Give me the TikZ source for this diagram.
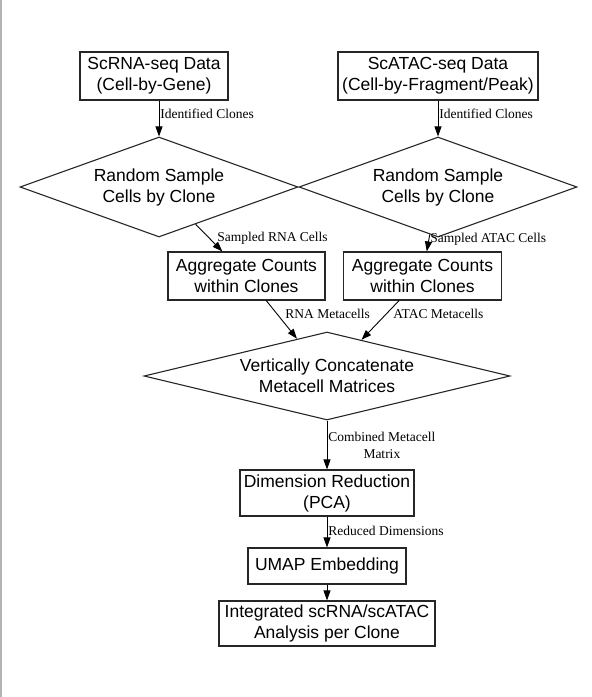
\documentclass[tikz,border=0pt]{standalone}
\usepackage{fontspec}
\setmainfont{Liberation Serif}
\newfontfamily\boxfont{Liberation Sans}
\usetikzlibrary{shapes.geometric}
\usetikzlibrary{arrows.meta}

\begin{document}
\begin{tikzpicture}[x=1pt,y=-1pt,
 box/.style={draw=black!85, line width=1.1pt, align=center, inner sep=0pt, font=\boxfont\fontsize{17.5}{21}\selectfont},
 choice/.style={draw=black!85, line width=1.1pt, diamond, align=center, inner sep=0pt, font=\boxfont\fontsize{17.5}{21}\selectfont},
 lbl/.style={anchor=west, inner sep=0pt, align=center, font=\fontsize{13.5}{17}\selectfont},
 flow/.style={draw=black, line width=0.9pt, -{Triangle[length=10pt,width=7pt]}}]
\useasboundingbox (0,0) rectangle (592,697);
\draw[black!30, line width=1.5pt] (0.75,0)--(0.75,697);
\node[box, minimum width=148, minimum height=48] (rna) at (154,76) {ScRNA-seq Data\\(Cell-by-Gene)};
\node[box, minimum width=200, minimum height=48] (atac) at (438,76) {ScATAC-seq Data\\(Cell-by-Fragment/Peak)};
\node[choice, aspect=2.9, minimum width=278, minimum height=100] (samp1) at (159,187) {Random Sample\\Cells by Clone};
\node[choice, aspect=2.9, minimum width=278, minimum height=100] (samp2) at (438,187) {Random Sample\\Cells by Clone};
\node[box, minimum width=157, minimum height=48] (agg1) at (246.5,276) {Aggregate Counts\\within Clones};
\node[box, minimum width=158, minimum height=48] (agg2) at (422.5,276) {Aggregate Counts\\within Clones};
\node[choice, aspect=4.3, minimum width=366, minimum height=88] (concat) at (327,376) {Vertically Concatenate\\Metacell Matrices};
\node[box, minimum width=174, minimum height=46] (pca) at (327,493) {Dimension Reduction\\(PCA)};
\node[box, minimum width=158, minimum height=36] (umap) at (327,566) {UMAP Embedding};
\node[box, minimum width=216, minimum height=45] (result) at (327,623.5) {Integrated scRNA/scATAC\\Analysis per Clone};

\draw[flow] (rna.south -| samp1.north) -- node[lbl, pos=0.38, xshift=1] (l1) {Identified Clones} (samp1.north);
\draw[flow] (atac.south) -- node[lbl, pos=0.38, xshift=1] (l2) {Identified Clones} (samp2.north);
\draw[flow] (samp1) -- node[lbl, pos=0.5, xshift=8] (l3) {Sampled RNA Cells} (agg1);
\draw[flow] (samp2) -- node[lbl, pos=0.3, xshift=1] (l4) {Sampled ATAC Cells} (agg2);
\draw[flow] (agg1) -- node[lbl, pos=0.35, xshift=8] (l5) {RNA Metacells} (concat);
\draw[flow] (agg2) -- node[lbl, pos=0.35, xshift=7] (l6) {ATAC Metacells} (concat);
\draw[flow] (concat.south) -- node[lbl, pos=0.51, xshift=1] (l7) {Combined Metacell\\Matrix} (pca.north);
\draw[flow] (pca) -- node[lbl, pos=0.47, xshift=1] (l8) {Reduced Dimensions} (umap);
\draw[flow] (umap) -- (result);
\end{tikzpicture}
\end{document}
